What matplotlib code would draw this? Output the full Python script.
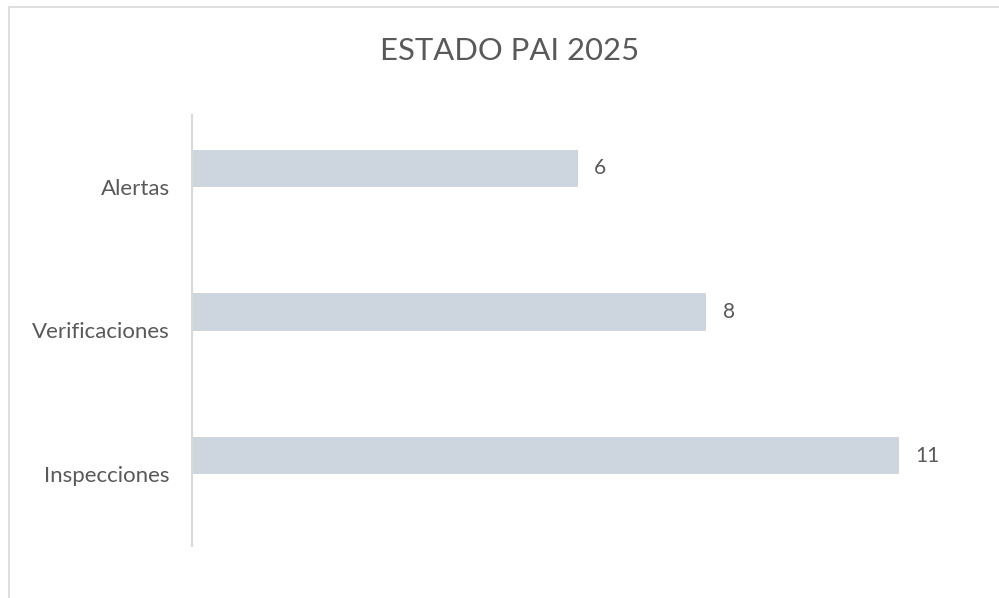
import matplotlib
matplotlib.use("Agg")
import matplotlib.pyplot as plt
from matplotlib.patches import Rectangle

categories = ["Inspecciones", "Verificaciones", "Alertas"]
values = [11, 8, 6]
title = "ESTADO PAI 2025"

plt.rcParams['font.family'] = ['Lato', 'DejaVu Sans']
text_color = "#595959"
bar_color = "#CDD5DF"
line_color = "#D9D9D9"

fig = plt.figure(figsize=(9.99, 5.98), dpi=100)
W, H = 999, 598
ax = fig.add_axes([192 / W, (H - 546) / H, (963 - 192) / W, (546 - 115) / H])

# outer chart frame (partially cropped in reference)
fig.patches.append(Rectangle((9 / W, -0.05), 1.2, (H - 7) / H + 0.05,
                             transform=fig.transFigure, fill=False,
                             edgecolor=line_color, linewidth=1.2))

bh = 0.258
ypos = list(range(len(categories)))
bars = ax.barh([y + bh / 2 for y in ypos], values, height=bh, color=bar_color)
for b, v in zip(bars, values):
    ax.text(v + 0.26, b.get_y() + b.get_height() / 2, str(v), va="center", ha="left",
            fontsize=15, color=text_color)

ax.set_xlim(0, 12)
ax.set_ylim(-0.5, len(categories) - 0.5)
ax.set_yticks(ypos)
ax.set_yticklabels(categories, fontsize=16, color=text_color)
ax.tick_params(axis="y", length=0, pad=16)
ax.set_xticks([])
for s in ["top", "right", "bottom"]:
    ax.spines[s].set_visible(False)
ax.spines["left"].set_color(line_color)
ax.spines["left"].set_linewidth(1.5)

fig.text(510 / W, (H - 51) / H, title, ha="center", va="center", fontsize=22.3,
         color=text_color)

fig.savefig("out.png", dpi=100)
